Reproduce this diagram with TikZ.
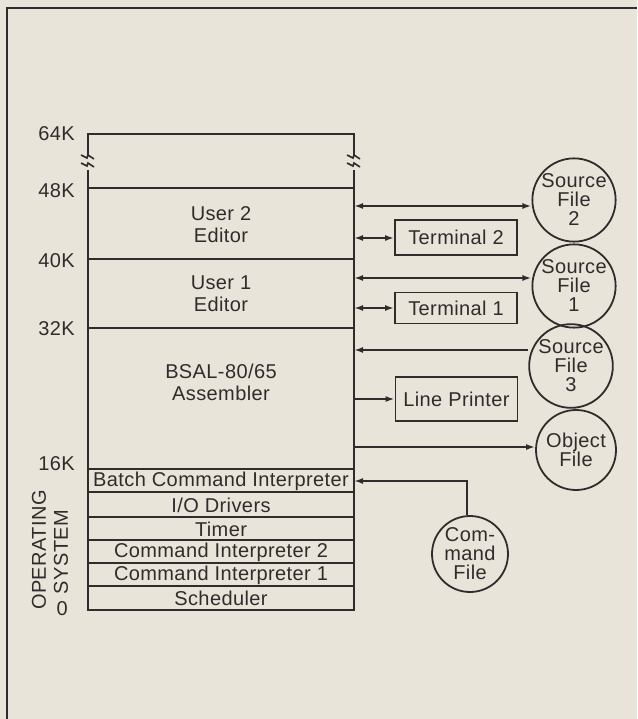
\documentclass[tikz,border=0pt]{standalone}
\usepackage{fontspec}
\setmainfont{Liberation Sans}[LetterSpace=2]
\usetikzlibrary{arrows.meta}
\definecolor{paper}{RGB}{232,228,218}
\definecolor{ink}{RGB}{48,44,44}
\tikzset{
  ln/.style={draw=ink, line width=1.8pt},
  lbl/.style={text=ink, font=\fontsize{20}{21}\selectfont, inner sep=0pt},
  rowtxt/.style={lbl, anchor=center},
  devbox/.style={ln, lbl, minimum width=122pt, align=center},
  filecirc/.style={ln, circle, minimum size=78pt, inner sep=0pt, text=ink, align=center, font=\fontsize{20}{19}\selectfont},
  arr/.style={draw=ink, line width=1.8pt, -{Latex[length=9pt,width=6pt]}},
  darr/.style={draw=ink, line width=1.8pt, {Latex[length=9pt,width=6pt]}-{Latex[length=9pt,width=6pt]}},
  brk/.pic={
    \draw[ink, line width=1.6pt] (-7,-7) -- (-1,-4) -- (0,-7) -- (6,-3);
    \draw[ink, line width=1.6pt] (-7,1) -- (-1,4) -- (0,1) -- (6,5);
  }
}
\begin{document}
\begin{tikzpicture}[x=1pt,y=-1pt]
\fill[paper] (0,0) rectangle (637,719);
\useasboundingbox (0,0) rectangle (637,719);
% frame
\draw[ink, line width=2.6pt] (7,719) -- (7,8) -- (637,8);

% memory column
\coordinate (tl) at (88,134);
\coordinate (tr) at (354,134);
\coordinate (bl) at (88,610);
\coordinate (br) at (354,610);
\draw[ln] (88,155) -- (tl) -- (tr) -- (354,155);
\draw[ln] (88,170) -- (bl) -- (br) -- (354,170);
\pic at (88,162) {brk};
\pic at (354,162) {brk};
\foreach \yy in {188,259,328,469,492,517,540,563,586}
  \draw[ln] (88,\yy) -- (354,\yy);

% address labels
\node[lbl, anchor=east] (k64) at (75,134) {64K};
\node[lbl, anchor=east] (k48) at (75,191) {48K};
\node[lbl, anchor=east] (k40) at (75,261) {40K};
\node[lbl, anchor=east] (k32) at (75,329) {32K};
\node[lbl, anchor=east] (k16) at (75,464) {16K};
\node[lbl, anchor=east] (k0) at (68,609) {0};
\node[lbl, rotate=90] (os1) at (39,550) {OPERATING};
\node[lbl, rotate=90] (os2) at (61,552) {SYSTEM};

% memory regions
\node[lbl, align=center, font=\fontsize{20}{22}\selectfont] (u2) at (221,225) {User 2\\Editor};
\node[lbl, align=center, font=\fontsize{20}{22}\selectfont] (u1) at (221,294) {User 1\\Editor};
\node[lbl, align=center, font=\fontsize{20}{22}\selectfont] (asm) at (221,382) {BSAL-80/65\\Assembler};
\node[rowtxt] (bci) at (221,481) {Batch Command Interpreter};
\node[rowtxt] (io) at (221,505) {I/O Drivers};
\node[rowtxt] (tim) at (221,529) {Timer};
\node[rowtxt] (ci2) at (221,552) {Command Interpreter 2};
\node[rowtxt] (ci1) at (221,575) {Command Interpreter 1};
\node[rowtxt] (sch) at (221,598) {Scheduler};

% devices
\node[devbox, minimum height=35pt] (t2) at (456,237.5) {Terminal 2};
\node[devbox, minimum height=31pt] (t1) at (456,308) {Terminal 1};
\node[devbox, minimum height=44pt] (lp) at (456.5,399) {Line Printer};
\node[filecirc] (sf2) at (574,200) {Source\\File\\2};
\node[filecirc] (sf1) at (574,286) {Source\\File\\1};
\node[filecirc, minimum size=80pt] (sf3) at (571,366) {Source\\File\\3};
\node[filecirc, minimum size=80pt] (of) at (576,450) {Object\\File};
\node[filecirc, minimum size=76pt] (cf) at (470,554) {Com-\\mand\\File};

% connection points on the column edge
\coordinate (e1) at (354,206);
\coordinate (e2) at (354,238);
\coordinate (e3) at (354,278);
\coordinate (e4) at (354,308);
\coordinate (e5) at (354,350);
\coordinate (e6) at (354,399);
\coordinate (e7) at (354,447);
\coordinate (e8) at (354,481);
\coordinate (cb) at (467,481);

\draw[darr] (e1) -- (e1 -| sf2.west);
\draw[darr] (e2) -- (t2.west |- e2);
\draw[darr] (e3) -- (e3 -| sf1.west);
\draw[darr] (e4) -- (t1.west |- e4);
\draw[arr] (e5 -| sf3.west) -- (e5);
\draw[arr] (e6) -- (lp.west |- e6);
\draw[arr] (e7) -- (e7 -| of.west);
\draw[arr] (cf.north -| cb) -- (cb) -- (e8);
\end{tikzpicture}
\end{document}
